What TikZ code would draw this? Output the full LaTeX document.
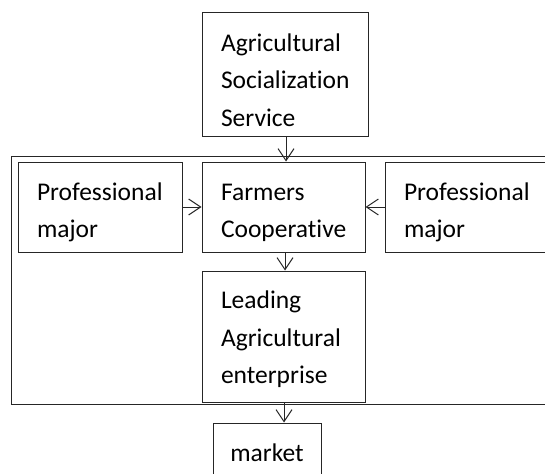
\documentclass[tikz,border=0pt]{standalone}
\usepackage{fontspec}
\setmainfont[Ligatures=NoCommon]{Carlito}
\usetikzlibrary{arrows.meta}
\newcommand{\firstup}{\rule{0pt}{28pt}}
\begin{document}
\begin{tikzpicture}[x=1pt,y=-1pt,
  box/.style={draw=black!85,line width=1pt,inner xsep=19pt,inner ysep=0pt,
    align=left,font=\fontsize{25.5pt}{37.5pt}\selectfont},
  frame/.style={draw=black!85,line width=1pt,inner sep=0pt},
  arr/.style={draw=black!85,line width=1pt,-{Straight Barb[length=12pt,width=16pt,line width=1pt]}}]
\useasboundingbox (0,0) rectangle (545,473);
\node[frame,minimum width=560pt,minimum height=248pt] (frm) at (291,280) {};
\node[box,text width=128pt,minimum height=124pt] (ass) at (285,75) {\firstup Agricultural\\Socialization\\Service};
\node[box,text width=125pt,minimum height=90pt] (coop) at (283.5,207) {\firstup Farmers\\Cooperative};
\node[box,text width=126pt,minimum height=90pt] (pml) at (100,207) {\firstup Professional\\major};
\node[box,text width=126pt,minimum height=90pt] (pmr) at (467,207) {\firstup Professional\\major};
\node[box,text width=125pt,minimum height=131pt] (lead) at (283.5,336.5) {\rule{0pt}{24pt}Leading\\Agricultural\\enterprise};
\node[box,inner xsep=0pt,text width=108pt,align=center,minimum height=62pt] (mkt) at (267,454) {\raisebox{2pt}{market}};
\draw[arr] (ass.south -| 286,0) -- (coop.north -| 286,0);
\draw[arr] (coop.south -| 285,0) -- (lead.north -| 285,0);
\draw[arr] (lead.south -| 284,0) -- (mkt.north -| 284,0);
\draw[arr] (pml.east) -- (coop.west);
\draw[arr] (pmr.west) -- (coop.east);
\end{tikzpicture}
\end{document}
